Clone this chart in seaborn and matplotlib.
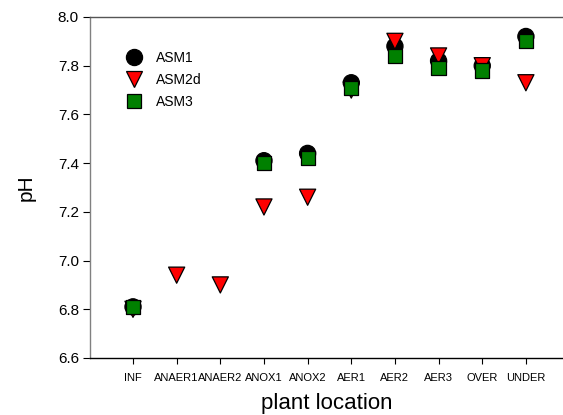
import numpy as np
import pandas as pd
import matplotlib
matplotlib.use("Agg")
import matplotlib.pyplot as plt
import seaborn as sns

locations = ["INF", "ANAER1", "ANAER2", "ANOX1", "ANOX2", "AER1", "AER2", "AER3", "OVER", "UNDER"]
asm1 = [6.81, np.nan, np.nan, 7.41, 7.44, 7.73, 7.88, 7.82, 7.80, 7.92]
asm2d = [6.80, 6.94, 6.90, 7.22, 7.26, 7.70, 7.90, 7.84, 7.80, 7.73]
asm3 = [6.81, np.nan, np.nan, 7.40, 7.42, 7.71, 7.84, 7.79, 7.78, 7.90]
models = ["ASM1", "ASM2d", "ASM3"]
yticks = [6.6, 6.8, 7.0, 7.2, 7.4, 7.6, 7.8, 8.0]

rows = []
for name, vals in zip(models, [asm1, asm2d, asm3]):
    for i, (loc, v) in enumerate(zip(locations, vals)):
        if not np.isnan(v):
            rows.append({"pos": i, "location": loc, "pH": v, "model": name})
df = pd.DataFrame(rows)

sns.set_style("ticks")
plt.rcParams["font.family"] = ["Liberation Sans", "DejaVu Sans"]
plt.rcParams["text.color"] = "black"
plt.rcParams["axes.labelcolor"] = "black"
plt.rcParams["xtick.color"] = "black"
plt.rcParams["ytick.color"] = "black"

fig = plt.figure(figsize=(5.63, 4.15), dpi=100)
W, H = 563, 415
ax = fig.add_axes([90 / W, (H - 358) / H, (563 - 90) / W, (358 - 17) / H])

sns.scatterplot(
    data=df, x="pos", y="pH", hue="model", style="model", size="model",
    hue_order=models, style_order=models, size_order=models,
    palette={"ASM1": "black", "ASM2d": "#ff0000", "ASM3": "#008000"},
    markers={"ASM1": "o", "ASM2d": "v", "ASM3": "s"},
    sizes={"ASM1": 135, "ASM2d": 135, "ASM3": 105},
    edgecolor="black", linewidth=0.9, ax=ax, legend="full", zorder=3,
)

leg = ax.get_legend()
handles = leg.legend_handles
labels = [t.get_text() for t in leg.get_texts()]
leg.remove()
pairs = [(h, l) for h, l in zip(handles, labels) if l in models]
ax.legend([p[0] for p in pairs], [p[1] for p in pairs], frameon=False,
          loc="upper left", bbox_to_anchor=(0.052, 0.918), fontsize=10,
          handletextpad=0.6, labelspacing=0.58, borderaxespad=0)

ax.set_xlim(-0.985, 9.85)
ax.set_ylim(6.6, 8.0)
ax.set_xticks(range(len(locations)))
ax.set_xticklabels(locations, fontsize=8)
ax.set_yticks(yticks)
ax.set_yticklabels([f"{t:.1f}" for t in yticks], fontsize=11)
ax.tick_params(axis="x", length=4, width=0.8, color="black", pad=7)
ax.tick_params(axis="y", length=5, width=0.8, color="black", pad=3)

ax.set_xlabel("plant location", fontsize=16, labelpad=7)
ax.set_ylabel("pH", fontsize=15, labelpad=16)

ax.spines["right"].set_visible(False)
ax.spines["top"].set_visible(True)
ax.spines["top"].set_color("#555555")
ax.spines["left"].set_color("#808080")
ax.spines["bottom"].set_color("black")
for s in ax.spines.values():
    s.set_linewidth(1.0)

fig.savefig("out.png", dpi=100)
